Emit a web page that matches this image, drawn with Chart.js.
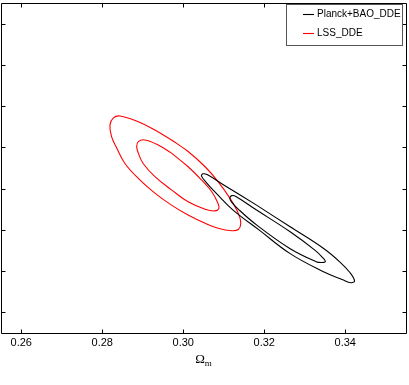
<!DOCTYPE html>
<html>
<head>
<meta charset="utf-8">
<script src="https://cdn.jsdelivr.net/npm/chart.js@4.4.1/dist/chart.umd.min.js"></script>
<style>
html,body{margin:0;padding:0;background:#fff;}
canvas{display:block;}
</style>
</head>
<body>
<canvas id="c" width="409" height="385"></canvas>
<script>
// ---- data ----
const seriesLabels = ['Planck+BAO_DDE', 'LSS_DDE'];
const seriesColors = ['#000000', '#ff0000'];
const xTicks = [0.26, 0.28, 0.30, 0.32, 0.34];
const yTicks = [0.5, 1.5, 2.5, 3.5, 4.5, 5.5, 6.5, 7.5];
const xLabel = ['\u03A9', 'm'];

// Planck+BAO_DDE contours (Omega_m, y)
const planckOuter = [[0.3181,3.10],[0.3263,2.58],[0.3345,2.06],[0.3387,1.72],[0.3412,1.46],[0.3423,1.26],[0.3414,1.22],[0.3394,1.29],[0.3345,1.49],[0.3263,1.93],[0.3187,2.50],[0.3123,2.98],[0.3083,3.37],[0.3056,3.66],[0.3045,3.81],[0.3049,3.86],[0.3059,3.84],[0.3098,3.60]];
const planckInner = [[0.3181,2.98],[0.3263,2.46],[0.3325,2.01],[0.3345,1.82],[0.3351,1.73],[0.3342,1.71],[0.3328,1.73],[0.3263,2.05],[0.3181,2.62],[0.3135,3.01],[0.3119,3.18],[0.3115,3.27],[0.3120,3.33],[0.3130,3.31]];
// LSS_DDE contours
const lssOuter = [[0.2971,4.68],[0.3012,4.40],[0.3054,4.03],[0.3086,3.67],[0.3115,3.27],[0.3136,2.90],[0.3142,2.66],[0.3136,2.51],[0.3120,2.48],[0.3086,2.54],[0.3054,2.66],[0.3012,2.86],[0.2971,3.10],[0.2930,3.39],[0.2889,3.75],[0.2856,4.11],[0.2836,4.48],[0.2823,4.76],[0.2819,5.04],[0.2827,5.21],[0.2844,5.26],[0.2889,5.12],[0.2930,4.92]];
const lssInner = [[0.2971,4.36],[0.3012,4.03],[0.3045,3.71],[0.3070,3.43],[0.3086,3.14],[0.3088,3.02],[0.3078,2.96],[0.3054,3.00],[0.3012,3.18],[0.2971,3.47],[0.2930,3.79],[0.2901,4.11],[0.2889,4.36],[0.2885,4.52],[0.2889,4.64],[0.2905,4.68],[0.2938,4.56]];

function closed(arr){
  const pts = arr.map(p => ({x:p[0], y:p[1]}));
  pts.push({x:arr[0][0], y:arr[0][1]});
  return pts;
}
function ds(arr, si){
  return {
    label: seriesLabels[si],
    data: closed(arr),
    showLine: true,
    borderColor: seriesColors[si],
    borderWidth: 1.1,
    pointRadius: 0,
    tension: 0.4,
    fill: false
  };
}

const framePlugin = {
  id: 'frame',
  afterDraw(chart){
    const ctx = chart.ctx;
    const a = chart.chartArea;
    const xs = chart.scales.x, ys = chart.scales.y;
    const L = Math.round(a.left)+0.5, R = Math.round(a.right)+0.5;
    const T = Math.round(a.top)+0.5, B = Math.round(a.bottom)+0.5;
    ctx.save();
    ctx.strokeStyle = '#000';
    ctx.lineWidth = 1;
    ctx.beginPath();
    ctx.rect(L, T, R-L, B-T);
    ctx.stroke();
    const tl = 4;
    ctx.beginPath();
    xTicks.forEach(v => {
      const px = Math.round(xs.getPixelForValue(v))+0.5;
      ctx.moveTo(px, B); ctx.lineTo(px, B-tl);
      ctx.moveTo(px, T); ctx.lineTo(px, T+tl);
    });
    yTicks.forEach(v => {
      const py = Math.round(ys.getPixelForValue(v))+0.5;
      ctx.moveTo(L, py); ctx.lineTo(L+tl, py);
      ctx.moveTo(R, py); ctx.lineTo(R-tl, py);
    });
    ctx.stroke();

    // x-axis label
    ctx.fillStyle = '#000';
    ctx.textBaseline = 'alphabetic';
    ctx.font = '13px "Liberation Serif", "DejaVu Serif", serif';
    const cx = (a.left + a.right)/2;
    const w1 = ctx.measureText(xLabel[0]).width;
    ctx.font = '9px "Liberation Serif", "DejaVu Serif", serif';
    const w2 = ctx.measureText(xLabel[1]).width;
    const x0 = cx - (w1 + w2)/2;
    ctx.font = '13px "Liberation Serif", "DejaVu Serif", serif';
    ctx.fillText(xLabel[0], x0, 363);
    ctx.font = '9px "Liberation Serif", "DejaVu Serif", serif';
    ctx.fillText(xLabel[1], x0 + w1, 366);

    // legend
    const bx = 286.5, by = 4.5, bw = 116, bh = 41;
    ctx.fillStyle = '#fff';
    ctx.fillRect(bx, by, bw, bh);
    ctx.strokeStyle = '#555';
    ctx.strokeRect(bx, by, bw, bh);
    const rows = [14.5, 33.5];
    ctx.font = '10px "Liberation Sans", Arial, sans-serif';
    ctx.textBaseline = 'middle';
    seriesLabels.forEach((lab, i) => {
      ctx.strokeStyle = seriesColors[i];
      ctx.lineWidth = 1.1;
      ctx.beginPath();
      ctx.moveTo(303, rows[i]); ctx.lineTo(314, rows[i]);
      ctx.stroke();
      ctx.fillStyle = '#000';
      ctx.fillText(lab, 317, rows[i]);
    });
    ctx.restore();
  }
};

new Chart(document.getElementById('c'), {
  type: 'scatter',
  data: {
    datasets: [
      ds(planckOuter, 0),
      ds(planckInner, 0),
      ds(lssOuter, 1),
      ds(lssInner, 1)
    ]
  },
  options: {
    responsive: false,
    animation: false,
    layout: { padding: { left: 1, right: 3, top: 3, bottom: 0 } },
    plugins: { legend: { display: false }, tooltip: { enabled: false } },
    scales: {
      x: {
        type: 'linear',
        min: 0.255, max: 0.355,
        afterBuildTicks: s => { s.ticks = xTicks.map(v => ({value: v})); },
        afterFit: s => { s.height = 52; },
        grid: { display: false, drawTicks: false },
        border: { display: false },
        ticks: {
          padding: 3,
          color: '#000',
          font: { family: '"Liberation Sans", Arial, sans-serif', size: 11 },
          callback: v => v.toFixed(2),
          maxRotation: 0
        }
      },
      y: {
        type: 'linear',
        display: false,
        min: 0, max: 8,
        afterBuildTicks: s => { s.ticks = yTicks.map(v => ({value: v})); }
      }
    }
  },
  plugins: [framePlugin]
});
</script>
</body>
</html>
